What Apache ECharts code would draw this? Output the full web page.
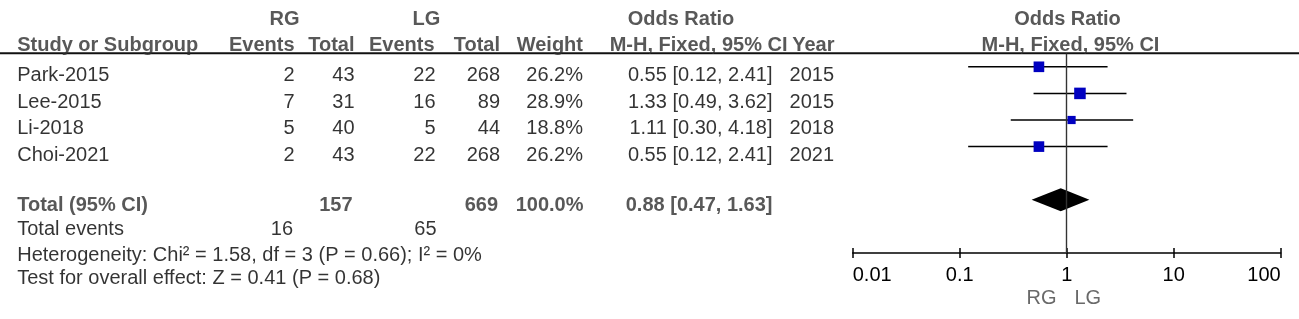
<!DOCTYPE html>
<html>
<head>
<meta charset="utf-8">
<script src="https://cdn.jsdelivr.net/npm/echarts@6/dist/echarts.min.js"></script>
<style>
html, body { margin: 0; padding: 0; background: #fff; }
#main { width: 1299px; height: 319px; }
</style>
</head>
<body>
<div id="main"></div>
<script>
// studies
var studies = ['Park-2015', 'Lee-2015', 'Li-2018', 'Choi-2021'];
var rgEvents = [2, 7, 5, 2];
var rgTotal = [43, 31, 40, 43];
var lgEvents = [22, 16, 5, 22];
var lgTotal = [268, 89, 44, 268];
var weights = [26.2, 28.9, 18.8, 26.2];
var orMid = [0.55, 1.33, 1.11, 0.55];
var orLow = [0.12, 0.49, 0.30, 0.12];
var orHigh = [2.41, 3.62, 4.18, 2.41];
var years = [2015, 2015, 2018, 2021];

// pooled result
var totalRG = 157, totalLG = 669, totalWeight = 100.0;
var eventsRG = 16, eventsLG = 65;
var pooled = [0.88, 0.47, 1.63]; // OR, low, high
var hetText = 'Heterogeneity: Chi\u00b2 = 1.58, df = 3 (P = 0.66); I\u00b2 = 0%';
var effectText = 'Test for overall effect: Z = 0.41 (P = 0.68)';

// axis ticks
var xTicks = [0.01, 0.1, 1, 10, 100];
var xTickLabels = ['0.01', '0.1', '1', '10', '100'];

// ---- layout ----
var FONT = '"Liberation Sans", Arial, sans-serif';
var FS = 20;
var BOLD_C = '#2e2e2e';
var DY = 1.5; // text baseline nudge
var col = { name: 17.7, rgE: 295, rgT: 355, lgE: 436, lgT: 500.5, w: 583.5, or: 773, year: 834.5 };
var hdr1Y = 18.8, hdr2Y = 44;
var rowY = [74.5, 101, 127.5, 154];
var totalY = 204, eventsY = 228.3, hetY = 254, testY = 277.5;
var totalRow = 5; // row index of the diamond in the plot

function fmtOR(m, l, h) {
	return m.toFixed(2) + ' [' + l.toFixed(2) + ', ' + h.toFixed(2) + ']';
}

// text column as scatter labels on the hidden full-size grid
function txt(items, align, bold, color) {
	return {
		type : 'scatter',
		xAxisIndex : 0,
		yAxisIndex : 0,
		symbolSize : 1,
		silent : true,
		itemStyle : { color : 'transparent' },
		data : items.map(function(it) {
			return { value : [it[0], it[1] + DY], name : String(it[2]) };
		}),
		label : {
			show : true,
			position : [0, 0],
			align : align,
			verticalAlign : 'middle',
			formatter : '{b}',
			fontFamily : FONT,
			fontSize : FS,
			fontWeight : bold ? 'bold' : 'normal',
			color : color
		}
	};
}

var hdrCenter = [[285, hdr1Y, 'RG'], [427, hdr1Y, 'LG'], [681.5, hdr1Y, 'Odds Ratio'],
	[1068, hdr1Y, 'Odds Ratio'], [1071, hdr2Y, 'M-H, Fixed, 95% CI']];
var hdrLeft = [[col.name, hdr2Y, 'Study or Subgroup']];
var hdrRight = [[col.rgE, hdr2Y, 'Events'], [col.rgT, hdr2Y, 'Total'], [435, hdr2Y, 'Events'],
	[col.lgT, hdr2Y, 'Total'], [col.w, hdr2Y, 'Weight'], [788, hdr2Y, 'M-H, Fixed, 95% CI'], [835, hdr2Y, 'Year']];

var rowLeft = [], rowRight = [];
for (var i = 0; i < studies.length; i++) {
	var y = rowY[i];
	rowLeft.push([col.name, y, studies[i]]);
	rowRight.push([col.rgE, y, rgEvents[i]]);
	rowRight.push([col.rgT, y, rgTotal[i]]);
	rowRight.push([col.lgE, y, lgEvents[i]]);
	rowRight.push([col.lgT, y, lgTotal[i]]);
	rowRight.push([col.w, y, weights[i].toFixed(1) + '%']);
	rowRight.push([col.or, y, fmtOR(orMid[i], orLow[i], orHigh[i])]);
	rowRight.push([col.year, y, years[i]]);
}
var totLeft = [[col.name, totalY, 'Total (95% CI)']];
var totRight = [[353, totalY, totalRG], [498.5, totalY, totalLG],
	[584, totalY, totalWeight.toFixed(1) + '%'], [col.or, totalY, fmtOR(pooled[0], pooled[1], pooled[2])]];
var footLeft = [[col.name, eventsY, 'Total events'], [col.name, hetY, hetText], [col.name, testY, effectText]];
var footRight = [[293.5, eventsY, eventsRG], [437, eventsY, eventsLG]];

var dom = document.getElementById('main');
var myChart = echarts.init(dom);

var option = {
	animation : false,
	grid : [
		{ left : 0, right : 0, top : 0, bottom : 0 },
		{ left : 852.7, right : 18.3, top : 53.5, height : 199.5 }
	],
	xAxis : [
		{ gridIndex : 0, type : 'value', min : 0, max : 1299, show : false },
		{
			gridIndex : 1, type : 'log', logBase : 10, min : 0.01, max : 100, position : 'bottom',
			axisLine : { onZero : false, lineStyle : { color : '#000', width : 1.5 } },
			axisTick : { show : true, inside : false, length : 5, lineStyle : { color : '#000', width : 1.5 } },
			axisLabel : {
				margin : 12, color : '#000', fontFamily : FONT, fontSize : FS,
				alignMinLabel : 'left', alignMaxLabel : 'right',
				formatter : function(v) {
					var best = 0;
					for (var k = 0; k < xTicks.length; k++) {
						if (Math.abs(Math.log10(v) - Math.log10(xTicks[k])) < Math.abs(Math.log10(v) - Math.log10(xTicks[best]))) best = k;
					}
					return xTickLabels[best];
				}
			},
			splitLine : { show : false }
		},
		{
			// second copy for the ticks above the line
			gridIndex : 1, type : 'log', logBase : 10, min : 0.01, max : 100, position : 'bottom',
			axisLine : { show : false, onZero : false },
			axisTick : { show : true, inside : true, length : 5, lineStyle : { color : '#000', width : 1.5 } },
			axisLabel : { show : false },
			splitLine : { show : false }
		}
	],
	yAxis : [
		{ gridIndex : 0, type : 'value', min : 0, max : 319, inverse : true, show : false },
		{ gridIndex : 1, type : 'value', min : -0.5, max : 7, inverse : true, show : false,
			axisLine : { onZero : false } }
	],
	graphic : [{
		type : 'line',
		shape : { x1 : 0, y1 : 53.3, x2 : 1299, y2 : 53.3 },
		style : { stroke : '#111', lineWidth : 2 },
		z : 0
	}],
	series : [
		txt(hdrCenter, 'center', true, BOLD_C),
		txt(hdrLeft, 'left', true, BOLD_C),
		txt(hdrRight, 'right', true, BOLD_C),
		txt(rowLeft, 'left', false, '#000'),
		txt(rowRight, 'right', false, '#000'),
		txt(totLeft, 'left', true, BOLD_C),
		txt(totRight, 'right', true, BOLD_C),
		txt(footLeft, 'left', false, '#000'),
		txt(footRight, 'right', false, '#000'),
		txt([[1057, 297, 'RG']], 'right', false, '#444'),
		txt([[1075, 297, 'LG']], 'left', false, '#444'),
		{
			// confidence intervals
			type : 'custom',
			xAxisIndex : 1,
			yAxisIndex : 1,
			silent : true,
			z : 2,
			data : studies.map(function(s, k) { return [orLow[k], orHigh[k], k]; }),
			encode : { x : [0, 1], y : 2 },
			renderItem : function(params, api) {
				var a = api.coord([api.value(0), api.value(2)]);
				var b = api.coord([api.value(1), api.value(2)]);
				return {
					type : 'line',
					shape : { x1 : a[0], y1 : a[1], x2 : b[0], y2 : b[1] },
					style : { stroke : '#000', lineWidth : 1.5 }
				};
			},
			markLine : {
				silent : true,
				symbol : 'none',
				label : { show : false },
				lineStyle : { color : '#333', width : 1.4, type : 'solid' },
				data : [{ xAxis : 1 }]
			}
		},
		{
			// pooled diamond
			type : 'custom',
			xAxisIndex : 1,
			yAxisIndex : 1,
			silent : true,
			z : 3,
			data : [[pooled[0], pooled[1], pooled[2], totalRow]],
			encode : { x : [0, 1, 2], y : 3 },
			renderItem : function(params, api) {
				var row = api.value(3);
				var c = api.coord([api.value(0), row]);
				var l = api.coord([api.value(1), row]);
				var r = api.coord([api.value(2), row]);
				var h = 11.5;
				return {
					type : 'polygon',
					shape : { points : [[l[0], c[1]], [c[0], c[1] - h], [r[0], c[1]], [c[0], c[1] + h]] },
					style : { fill : '#000' }
				};
			}
		},
		{
			// study squares
			type : 'scatter',
			xAxisIndex : 1,
			yAxisIndex : 1,
			silent : true,
			z : 4,
			symbol : 'rect',
			symbolSize : function(v) { return 2 + v[2] * 0.33; },
			itemStyle : { color : '#0000c0', opacity : 1 },
			data : studies.map(function(s, k) { return [orMid[k], k, weights[k]]; })
		}
	]
};

myChart.setOption(option);

window.onresize = myChart.resize;
</script>
</body>
</html>
